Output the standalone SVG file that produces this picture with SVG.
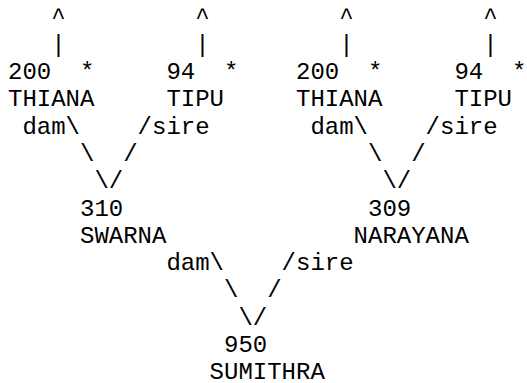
<svg xmlns="http://www.w3.org/2000/svg" width="527" height="383" viewBox="0 0 527 383">
<style>
text{font-family:"Liberation Mono","Courier New",monospace;font-size:24px;fill:#000;white-space:pre}
</style>
<rect width="527" height="383" fill="#fff"/>
<g id="connectors">
<text x="51.2" y="24.4">^</text><text x="195.2" y="24.4">^</text><text x="339.2" y="24.4">^</text><text x="483.2" y="24.4">^</text>
<text x="51.2" y="51.7">|</text><text x="195.2" y="51.7">|</text><text x="339.2" y="51.7">|</text><text x="483.2" y="51.7">|</text>
<text x="22.4" y="133.6">dam\</text><text x="137.6" y="133.6">/sire</text><text x="310.4" y="133.6">dam\</text><text x="425.6" y="133.6">/sire</text>
<text x="80" y="160.9">\</text><text x="123.2" y="160.9">/</text><text x="368" y="160.9">\</text><text x="411.2" y="160.9">/</text>
<text x="94.4" y="188.2">\/</text><text x="382.4" y="188.2">\/</text>
<text x="166.4" y="270.1">dam\</text><text x="281.6" y="270.1">/sire</text>
<text x="224" y="297.4">\</text><text x="267.2" y="297.4">/</text>
<text x="238.4" y="324.7">\/</text>
</g>
<g id="thiana-1"><text x="8" y="79">200</text><text x="80" y="79">*</text><text x="8" y="106.3">THIANA</text></g>
<g id="tipu-1"><text x="166.4" y="79">94</text><text x="224" y="79">*</text><text x="166.4" y="106.3">TIPU</text></g>
<g id="thiana-2"><text x="296" y="79">200</text><text x="368" y="79">*</text><text x="296" y="106.3">THIANA</text></g>
<g id="tipu-2"><text x="454.4" y="79">94</text><text x="512" y="79">*</text><text x="454.4" y="106.3">TIPU</text></g>
<g id="swarna"><text x="80" y="215.5">310</text><text x="80" y="242.8">SWARNA</text></g>
<g id="narayana"><text x="368" y="215.5">309</text><text x="353.6" y="242.8">NARAYANA</text></g>
<g id="sumithra"><text x="224" y="352">950</text><text x="209.6" y="379.3">SUMITHRA</text></g>
</svg>
